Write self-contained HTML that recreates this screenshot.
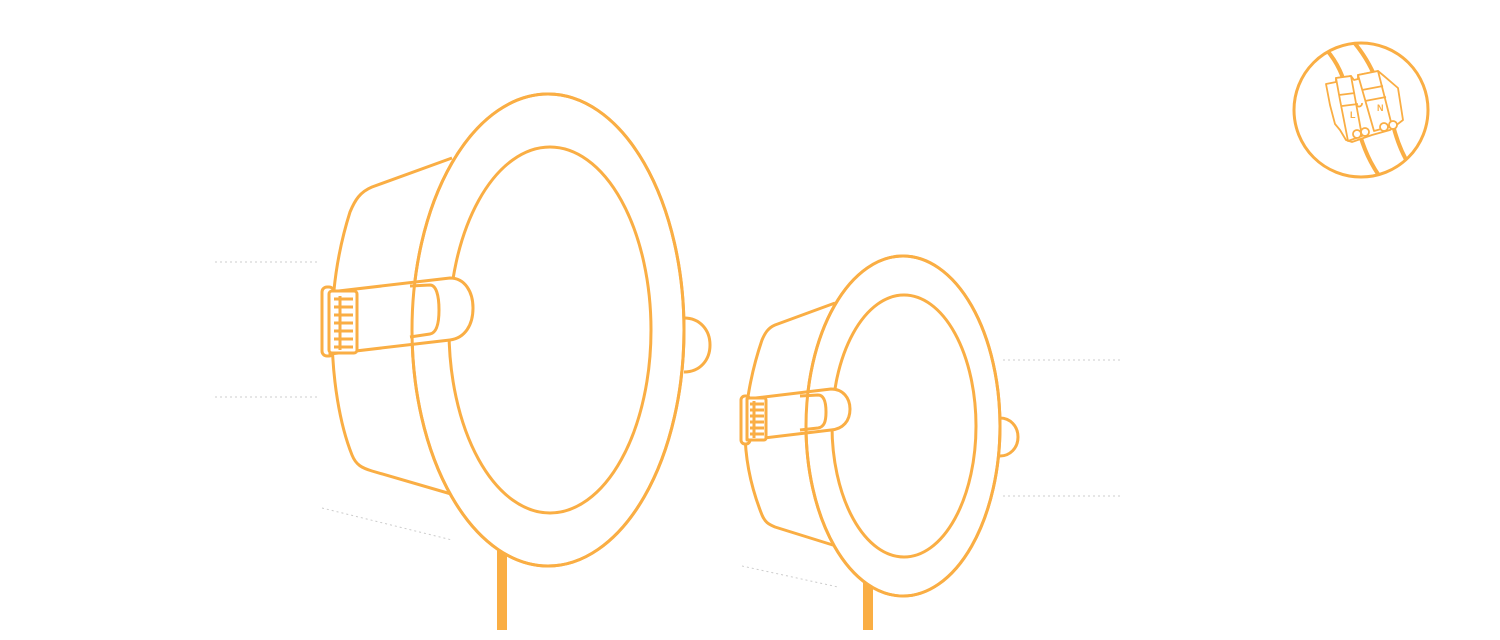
<!DOCTYPE html>
<html><head><meta charset="utf-8"><style>html,body{margin:0;padding:0;background:#fff}svg{display:block}</style></head>
<body>
<svg width="1500" height="640" viewBox="0 0 1500 640" xmlns="http://www.w3.org/2000/svg">
<g fill="none" stroke="#ccc" stroke-width="1" stroke-dasharray="2,3">
<line x1="215" y1="262" x2="320" y2="262"/>
<line x1="215" y1="397" x2="320" y2="397"/>
<line x1="322" y1="508" x2="452" y2="540"/>
<line x1="1003" y1="360" x2="1120" y2="360"/>
<line x1="1003" y1="496" x2="1120" y2="496"/>
<line x1="742" y1="566" x2="838" y2="587"/>
</g>
<g stroke="#FAAE44" stroke-width="3" fill="#fff" stroke-linejoin="round">
<!-- big lamp -->
<rect x="497" y="540" width="10" height="90" fill="#FAAE44" stroke="none"/>
<path d="M684,318 C700,318 710,330 710,345 C710,360 700,372 684,372"/>
<path d="M452,158 L372,187 C360,192 355,200 350,212 C338,250 332,290 332,330 C332,380 340,425 352,455 C356,465 362,468 372,471 L458,496"/>
<ellipse cx="548" cy="330" rx="136" ry="236"/>
<ellipse cx="550" cy="330" rx="101" ry="183"/>
<rect x="322" y="287" width="12" height="69" rx="5"/>
<path d="M330,292 L450,278 C465,278 473,292 473,308 C473,325 465,338 450,340 L330,354 Z"/>
<path d="M410,286 L430,285 C436,285 439,295 439,310 C439,325 436,333 430,334 L410,337"/>
<rect x="329" y="291" width="28" height="62" rx="3"/>
<path d="M340,296 V350 M334,299 H353 M334,307 H353 M334,315 H353 M334,323 H353 M334,331 H353 M334,339 H353 M334,347 H353"/>
<ellipse cx="548" cy="330" rx="136" ry="236" fill="none"/>
<!-- small lamp -->
<rect x="863" y="575" width="10" height="55" fill="#FAAE44" stroke="none"/>
<path d="M1000,418 C1010,418 1018,426 1018,437 C1018,448 1010,456 1000,456"/>
<path d="M835,303 L775,325 C768,328 765,333 762,340 C750,375 745,410 745,430 C745,460 752,490 762,515 C765,522 768,524 775,527 L836,546"/>
<ellipse cx="903" cy="426" rx="97" ry="170"/>
<ellipse cx="904" cy="426" rx="72" ry="131"/>
<rect x="741" y="396" width="9" height="48" rx="4"/>
<path d="M747,399 L831,389 C843,389 850,398 850,409 C850,421 843,429 831,430 L747,440 Z"/>
<path d="M800,396 L818,395 C824,395 826,402 826,412 C826,422 824,427 818,428 L800,430"/>
<rect x="747" y="398" width="19" height="42" rx="2"/>
<path d="M754,401 V438 M750,404 H764 M750,410 H764 M750,416 H764 M750,422 H764 M750,428 H764 M750,434 H764"/>
<ellipse cx="903" cy="426" rx="97" ry="170" fill="none"/>
<!-- badge -->
<circle cx="1361" cy="110" r="67"/>
</g>
<defs><clipPath id="c"><circle cx="1361" cy="110" r="66"/></clipPath></defs>
<g clip-path="url(#c)" fill="none" stroke="#FAAE44" stroke-width="4">
<path d="M1322,45 C1335,58 1342,72 1346,88 L1360,135 C1366,155 1374,170 1386,185"/>
<path d="M1352,40 C1365,55 1373,70 1378,85 L1393,125 C1398,145 1405,160 1414,172"/>
</g>
<g fill="#fff" stroke="#FAAE44" stroke-width="1.8" stroke-linejoin="round">
<path d="M1326,84 L1336,82 L1336,78 L1351,76 L1354,80 L1358,79 L1358,75 L1378,71 L1384,76 L1398,88 L1403,120 L1390,130 L1372,135 L1352,142 L1346,140 L1340,130 L1335,124 L1330,105 Z"/>
<path d="M1336,78 L1351,76 L1362,136 L1348,141 L1340,100 Z"/>
<path d="M1358,75 L1378,71 L1392,126 L1374,131 Z"/>
<path d="M1339,95 L1355,93 M1342,106 L1358,104 M1362,90 L1383,86 M1365,101 L1386,97 M1356,104 A3,3 0 1 0 1362,103"/>
<circle cx="1357" cy="134" r="4"/><circle cx="1365" cy="132" r="4"/>
<circle cx="1384" cy="127" r="4"/><circle cx="1393" cy="125" r="4"/>
</g>
<text x="1350" y="118" font-family="Liberation Sans, sans-serif" font-size="9" font-weight="bold" fill="#FAAE44">L</text>
<text x="1377" y="111" font-family="Liberation Sans, sans-serif" font-size="9" font-weight="bold" fill="#FAAE44">N</text>
</svg>
</body></html>
